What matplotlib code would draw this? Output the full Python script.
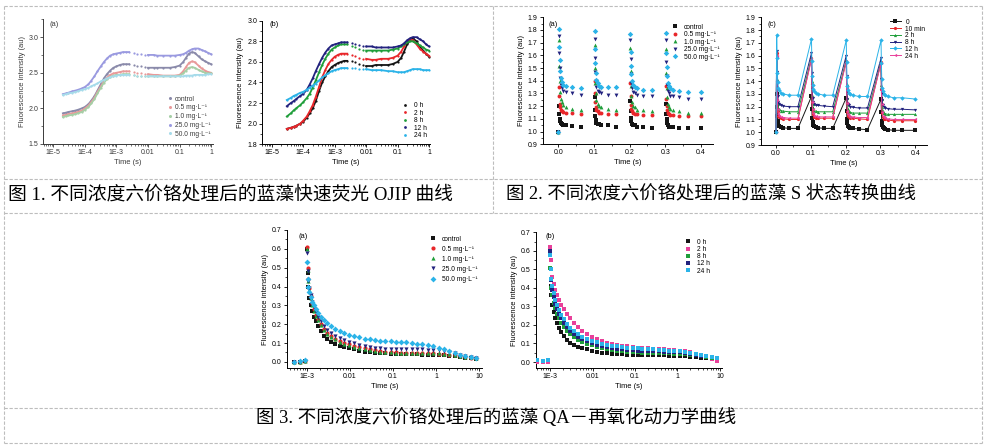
import numpy as np
import matplotlib
matplotlib.use('Agg')
import matplotlib.pyplot as plt
from matplotlib.lines import Line2D
from matplotlib.ticker import LogLocator, MultipleLocator, NullFormatter

W, H = 991, 448
plt.rcParams['font.family'] = ['Liberation Sans', 'DejaVu Sans']

# ------------------------------------------------------------------ data
conc_labels = ['control', '0.5 mg·L⁻¹', '1.0 mg·L⁻¹', '25.0 mg·L⁻¹', '50.0 mg·L⁻¹']
hour_labels = ['0 h', '2 h', '8 h', '12 h', '24 h']
hour_labels_c = ['0', '10 min', '2 h', '8 h', '12 h', '24 h']

caption1 = '图 1. 不同浓度六价铬处理后的蓝藻快速荧光 OJIP 曲线'
caption2 = '图 2. 不同浓度六价铬处理后的蓝藻 S 状态转换曲线'
caption3 = '图 3. 不同浓度六价铬处理后的蓝藻 QA－再氧化动力学曲线'

ylabel = 'Fluorescence intensity (au)'
xlabel = 'Time (s)'

log_ticks_ojip = [1e-5, 1e-4, 1e-3, 1e-2, 1e-1, 1]
log_labels_ojip = ['1E-5', '1E-4', '1E-3', '0.01', '0.1', '1']
log_ticks_qa = [1e-3, 1e-2, 1e-1, 1, 10]
log_labels_qa = ['1E-3', '0.01', '0.1', '1', '10']

# --- Fig 1 (a): OJIP, concentrations
ojip_t_a = [2e-5, 2.5e-5, 3e-5, 4e-5, 5e-5, 6e-5, 8e-5, 1e-4, 1.3e-4, 1.6e-4,
            2e-4, 2.5e-4, 3.2e-4, 4e-4, 5e-4, 6.3e-4, 8e-4, 1e-3, 1.3e-3, 1.6e-3,
            2e-3, 2.5e-3, 3.5e-3, 4.5e-3, 6e-3, 8e-3, 0.01, 0.015, 0.02, 0.03,
            0.05, 0.07, 0.1, 0.13, 0.16, 0.2, 0.25, 0.3, 0.4, 0.5, 0.65, 0.8, 1.0]
ojip_a_control = [1.93, 1.94, 1.95, 1.96, 1.97, 1.98, 2.00, 2.02, 2.06, 2.11, 2.17, 2.25, 2.34,
                  2.42, 2.48, 2.53, 2.57, 2.59, 2.61, 2.62, 2.62, 2.62, 2.61, 2.60, 2.59, 2.58,
                  2.57, 2.57, 2.57, 2.57, 2.57, 2.58, 2.60, 2.65, 2.71, 2.77, 2.79, 2.78, 2.73,
                  2.69, 2.66, 2.64, 2.62]
ojip_a_c05 = [1.90, 1.91, 1.92, 1.93, 1.94, 1.95, 1.97, 2.00, 2.04, 2.09, 2.15, 2.23, 2.31,
              2.38, 2.43, 2.47, 2.49, 2.50, 2.51, 2.52, 2.52, 2.52, 2.51, 2.50, 2.49, 2.48,
              2.48, 2.47, 2.47, 2.46, 2.46, 2.46, 2.47, 2.52, 2.58, 2.64, 2.66, 2.65, 2.60,
              2.56, 2.53, 2.51, 2.50]
ojip_a_c10 = [1.88, 1.89, 1.90, 1.91, 1.92, 1.93, 1.95, 1.98, 2.02, 2.07, 2.13, 2.21, 2.29,
              2.36, 2.41, 2.44, 2.46, 2.47, 2.47, 2.48, 2.48, 2.48, 2.47, 2.46, 2.46, 2.45,
              2.45, 2.45, 2.45, 2.45, 2.45, 2.45, 2.46, 2.49, 2.53, 2.57, 2.58, 2.57, 2.54,
              2.52, 2.50, 2.49, 2.49]
ojip_a_c25 = [2.20, 2.21, 2.22, 2.24, 2.25, 2.26, 2.28, 2.30, 2.34, 2.39, 2.45, 2.52, 2.59,
              2.65, 2.70, 2.74, 2.76, 2.77, 2.78, 2.79, 2.79, 2.79, 2.78, 2.77, 2.76, 2.75,
              2.75, 2.75, 2.74, 2.74, 2.74, 2.74, 2.75, 2.76, 2.78, 2.81, 2.83, 2.84, 2.84,
              2.82, 2.80, 2.78, 2.76]
ojip_a_c50 = [2.19, 2.20, 2.21, 2.22, 2.23, 2.24, 2.26, 2.27, 2.29, 2.31, 2.33, 2.35, 2.38,
              2.40, 2.42, 2.44, 2.45, 2.46, 2.47, 2.47, 2.47, 2.47, 2.47, 2.46, 2.46, 2.46,
              2.45, 2.45, 2.45, 2.45, 2.45, 2.45, 2.45, 2.45, 2.46, 2.46, 2.46, 2.47, 2.47,
              2.47, 2.47, 2.48, 2.48]

# --- Fig 1 (b): OJIP, exposure time
ojip_t_b = [3e-5, 4e-5, 5e-5, 6e-5, 8e-5, 1e-4, 1.3e-4, 1.6e-4, 2e-4, 2.5e-4,
            3.2e-4, 4e-4, 5e-4, 6.3e-4, 8e-4, 1e-3, 1.3e-3, 1.6e-3, 2e-3, 2.5e-3,
            3.5e-3, 4.5e-3, 6e-3, 8e-3, 0.01, 0.015, 0.02, 0.03, 0.05, 0.07,
            0.1, 0.13, 0.16, 0.2, 0.25, 0.3, 0.4, 0.5, 0.65, 0.8, 1.0]
ojip_b_0h = [1.95, 1.96, 1.97, 1.98, 2.00, 2.02, 2.06, 2.10, 2.15, 2.22, 2.32, 2.40, 2.46,
             2.51, 2.55, 2.57, 2.59, 2.60, 2.61, 2.61, 2.61, 2.60, 2.58, 2.57, 2.56, 2.56,
             2.57, 2.57, 2.57, 2.58, 2.60, 2.64, 2.70, 2.77, 2.81, 2.83, 2.80, 2.75, 2.71,
             2.68, 2.65]
ojip_b_2h = [1.95, 1.96, 1.97, 1.98, 2.00, 2.03, 2.07, 2.12, 2.18, 2.26, 2.36, 2.45, 2.52,
             2.58, 2.62, 2.65, 2.67, 2.68, 2.68, 2.68, 2.67, 2.66, 2.64, 2.63, 2.63, 2.62,
             2.62, 2.63, 2.63, 2.64, 2.66, 2.70, 2.75, 2.80, 2.82, 2.81, 2.77, 2.73, 2.70,
             2.68, 2.66]
ojip_b_8h = [2.07, 2.10, 2.13, 2.15, 2.18, 2.21, 2.25, 2.29, 2.35, 2.42, 2.50, 2.57, 2.63,
             2.68, 2.72, 2.74, 2.76, 2.77, 2.77, 2.77, 2.75, 2.74, 2.73, 2.72, 2.71, 2.71,
             2.71, 2.71, 2.71, 2.72, 2.73, 2.75, 2.77, 2.79, 2.80, 2.80, 2.78, 2.76, 2.74,
             2.72, 2.71]
ojip_b_12h = [2.17, 2.20, 2.22, 2.24, 2.27, 2.29, 2.33, 2.38, 2.44, 2.51, 2.58, 2.64, 2.69,
              2.73, 2.76, 2.77, 2.78, 2.79, 2.79, 2.79, 2.78, 2.77, 2.76, 2.75, 2.75, 2.75,
              2.74, 2.74, 2.74, 2.74, 2.75, 2.76, 2.78, 2.81, 2.83, 2.84, 2.84, 2.82, 2.80,
              2.77, 2.75]
ojip_b_24h = [2.23, 2.25, 2.27, 2.28, 2.30, 2.31, 2.33, 2.35, 2.37, 2.39, 2.42, 2.45, 2.47,
              2.49, 2.51, 2.52, 2.53, 2.54, 2.54, 2.54, 2.54, 2.54, 2.53, 2.53, 2.53, 2.52,
              2.52, 2.52, 2.51, 2.51, 2.50, 2.50, 2.50, 2.51, 2.52, 2.53, 2.53, 2.53, 2.52,
              2.52, 2.52]

# --- Fig 2: state transitions (4 saturating pulses)
pulse_times = [0.0, 0.1, 0.2, 0.3]
pulse_offsets = [0.002, 0.003, 0.004, 0.005, 0.007, 0.010, 0.014, 0.021, 0.038, 0.063]
st_start_time, st_end_time = 0.0, 0.4
st_start_value = 1.0

st_a_control = [[1.20, 1.14, 1.10, 1.08, 1.07, 1.06, 1.05, 1.05, 1.045, 1.04],
                [1.27, 1.17, 1.12, 1.09, 1.07, 1.06, 1.06, 1.05, 1.05, 1.04],
                [1.24, 1.16, 1.11, 1.08, 1.06, 1.05, 1.05, 1.04, 1.035, 1.03],
                [1.22, 1.14, 1.10, 1.07, 1.05, 1.04, 1.04, 1.035, 1.03, 1.025]]
st_a_control_end = 1.03
st_a_c05 = [[1.35, 1.28, 1.22, 1.19, 1.17, 1.16, 1.155, 1.15, 1.145, 1.14],
            [1.40, 1.30, 1.23, 1.19, 1.17, 1.16, 1.15, 1.15, 1.14, 1.14],
            [1.38, 1.28, 1.21, 1.18, 1.16, 1.15, 1.14, 1.14, 1.13, 1.13],
            [1.36, 1.26, 1.20, 1.17, 1.15, 1.14, 1.13, 1.13, 1.125, 1.12]]
st_a_c05_end = 1.12
st_a_c10 = [[1.72, 1.52, 1.40, 1.31, 1.26, 1.23, 1.21, 1.19, 1.18, 1.17],
            [1.68, 1.50, 1.38, 1.30, 1.25, 1.22, 1.20, 1.19, 1.18, 1.17],
            [1.66, 1.48, 1.36, 1.28, 1.23, 1.20, 1.19, 1.17, 1.17, 1.16],
            [1.65, 1.46, 1.34, 1.27, 1.22, 1.19, 1.18, 1.17, 1.16, 1.15]]
st_a_c10_end = 1.15
st_a_c25 = [[1.75, 1.62, 1.50, 1.42, 1.37, 1.34, 1.32, 1.31, 1.30, 1.29],
            [1.73, 1.58, 1.47, 1.40, 1.35, 1.32, 1.31, 1.30, 1.29, 1.29],
            [1.72, 1.57, 1.45, 1.38, 1.34, 1.31, 1.30, 1.29, 1.28, 1.28],
            [1.72, 1.55, 1.44, 1.37, 1.32, 1.30, 1.28, 1.28, 1.27, 1.26]]
st_a_c25_end = 1.26
st_a_c50 = [[1.81, 1.67, 1.56, 1.48, 1.42, 1.39, 1.37, 1.36, 1.35, 1.34],
            [1.79, 1.65, 1.54, 1.46, 1.41, 1.38, 1.36, 1.35, 1.35, 1.35],
            [1.77, 1.63, 1.52, 1.45, 1.40, 1.37, 1.35, 1.34, 1.33, 1.33],
            [1.78, 1.62, 1.51, 1.44, 1.38, 1.36, 1.34, 1.33, 1.32, 1.31]]
st_a_c50_end = 1.31

st_c_0 = [[1.30, 1.20, 1.13, 1.09, 1.06, 1.05, 1.04, 1.035, 1.03, 1.03],
          [1.28, 1.18, 1.11, 1.08, 1.06, 1.05, 1.04, 1.035, 1.03, 1.03],
          [1.27, 1.17, 1.10, 1.07, 1.05, 1.04, 1.03, 1.03, 1.025, 1.02],
          [1.26, 1.16, 1.09, 1.06, 1.04, 1.03, 1.025, 1.02, 1.015, 1.015]]
st_c_0_end = 1.015
st_c_10min = [[1.62, 1.40, 1.25, 1.17, 1.13, 1.12, 1.11, 1.105, 1.10, 1.10],
              [1.58, 1.38, 1.24, 1.17, 1.14, 1.12, 1.115, 1.11, 1.11, 1.11],
              [1.56, 1.36, 1.23, 1.16, 1.13, 1.12, 1.11, 1.11, 1.105, 1.10],
              [1.55, 1.34, 1.21, 1.15, 1.12, 1.105, 1.10, 1.095, 1.09, 1.09]]
st_c_10min_end = 1.09
st_c_2h = [[1.60, 1.42, 1.30, 1.23, 1.19, 1.18, 1.17, 1.165, 1.16, 1.16],
           [1.58, 1.40, 1.29, 1.22, 1.19, 1.17, 1.165, 1.16, 1.16, 1.16],
           [1.56, 1.38, 1.27, 1.21, 1.18, 1.16, 1.155, 1.15, 1.15, 1.15],
           [1.55, 1.37, 1.26, 1.20, 1.17, 1.15, 1.145, 1.14, 1.14, 1.14]]
st_c_2h_end = 1.14
st_c_8h = [[1.64, 1.47, 1.35, 1.28, 1.24, 1.22, 1.21, 1.205, 1.20, 1.20],
           [1.62, 1.46, 1.34, 1.27, 1.24, 1.22, 1.21, 1.21, 1.205, 1.20],
           [1.60, 1.44, 1.32, 1.26, 1.22, 1.21, 1.20, 1.195, 1.19, 1.19],
           [1.58, 1.42, 1.31, 1.25, 1.21, 1.20, 1.19, 1.185, 1.18, 1.18]]
st_c_8h_end = 1.175
st_c_12h = [[1.76, 1.58, 1.46, 1.39, 1.35, 1.33, 1.31, 1.30, 1.29, 1.29],
            [1.73, 1.56, 1.44, 1.37, 1.34, 1.32, 1.31, 1.30, 1.29, 1.29],
            [1.72, 1.55, 1.43, 1.36, 1.33, 1.31, 1.30, 1.29, 1.28, 1.28],
            [1.72, 1.54, 1.42, 1.35, 1.32, 1.30, 1.29, 1.28, 1.27, 1.27]]
st_c_12h_end = 1.26
st_c_24h = [[1.60, 1.39, 1.25, 1.18, 1.14, 1.13, 1.12, 1.115, 1.11, 1.11],
            [1.57, 1.37, 1.24, 1.18, 1.15, 1.13, 1.125, 1.12, 1.12, 1.12],
            [1.55, 1.35, 1.23, 1.17, 1.14, 1.13, 1.12, 1.12, 1.115, 1.115],
            [1.54, 1.33, 1.22, 1.16, 1.13, 1.12, 1.11, 1.105, 1.10, 1.10]]
st_c_24h_end = 1.10

# --- Fig 3: QA- reoxidation
qa_t = [5e-4, 7e-4, 9e-4, 1.0e-3, 1.04e-3, 1.08e-3, 1.14e-3, 1.22e-3, 1.32e-3, 1.45e-3,
        1.6e-3, 1.8e-3, 2.1e-3, 2.5e-3, 3e-3, 3.7e-3, 4.6e-3, 5.8e-3, 7.4e-3, 9.5e-3,
        0.0125, 0.0165, 0.022, 0.029, 0.038, 0.05, 0.066, 0.088, 0.115, 0.15,
        0.2, 0.27, 0.36, 0.48, 0.64, 0.85, 1.15, 1.5, 2.0, 2.7, 3.6, 4.8, 6.4, 8.5]
qa_a_control = [0.0, 0.0, 0.005, 0.60, 0.47, 0.40, 0.34, 0.30, 0.27, 0.24, 0.215, 0.19, 0.165,
                0.14, 0.12, 0.105, 0.095, 0.087, 0.08, 0.073, 0.067, 0.06, 0.055, 0.05, 0.048,
                0.046, 0.045, 0.044, 0.043, 0.042, 0.042, 0.041, 0.040, 0.039, 0.038, 0.037,
                0.036, 0.034, 0.032, 0.029, 0.026, 0.022, 0.019, 0.017]
qa_a_c05 = [0.0, 0.0, 0.005, 0.61, 0.50, 0.44, 0.39, 0.35, 0.31, 0.28, 0.25, 0.225, 0.20,
            0.175, 0.155, 0.138, 0.124, 0.112, 0.102, 0.094, 0.086, 0.079, 0.072, 0.066, 0.061,
            0.057, 0.054, 0.052, 0.050, 0.049, 0.048, 0.047, 0.047, 0.046, 0.046, 0.045,
            0.044, 0.042, 0.039, 0.035, 0.031, 0.027, 0.023, 0.02]
qa_a_c10 = [0.0, 0.0, 0.005, 0.60, 0.49, 0.43, 0.38, 0.34, 0.30, 0.27, 0.245, 0.22, 0.195,
            0.17, 0.15, 0.133, 0.119, 0.107, 0.097, 0.089, 0.081, 0.074, 0.068, 0.063, 0.058,
            0.055, 0.052, 0.050, 0.049, 0.048, 0.048, 0.047, 0.047, 0.047, 0.046, 0.046,
            0.045, 0.043, 0.040, 0.036, 0.032, 0.028, 0.024, 0.021]
qa_a_c25 = [0.0, 0.0, 0.005, 0.58, 0.48, 0.43, 0.39, 0.355, 0.32, 0.29, 0.265, 0.24, 0.215,
            0.19, 0.17, 0.152, 0.138, 0.126, 0.115, 0.106, 0.098, 0.091, 0.085, 0.080, 0.076,
            0.073, 0.071, 0.070, 0.069, 0.068, 0.067, 0.067, 0.066, 0.066, 0.065, 0.064,
            0.062, 0.058, 0.052, 0.045, 0.038, 0.031, 0.025, 0.021]
qa_a_c50 = [0.0, 0.007, 0.012, 0.53, 0.44, 0.40, 0.37, 0.345, 0.32, 0.30, 0.28, 0.26, 0.24,
            0.22, 0.205, 0.19, 0.177, 0.166, 0.155, 0.145, 0.137, 0.13, 0.124, 0.119, 0.115,
            0.112, 0.11, 0.109, 0.108, 0.106, 0.104, 0.101, 0.097, 0.093, 0.088, 0.082,
            0.076, 0.069, 0.06, 0.048, 0.038, 0.03, 0.024, 0.02]

qa_b_0h = [0.01, 0.005, 0.01, 0.51, 0.41, 0.36, 0.31, 0.27, 0.24, 0.21, 0.185, 0.16, 0.14,
           0.12, 0.105, 0.093, 0.083, 0.075, 0.068, 0.062, 0.056, 0.051, 0.047, 0.044, 0.042,
           0.041, 0.040, 0.039, 0.038, 0.038, 0.037, 0.037, 0.036, 0.036, 0.035, 0.034,
           0.032, 0.03, 0.028, 0.026, 0.023, 0.02, 0.017, 0.014]
qa_b_2h = [0.0, 0.0, 0.0, 0.62, 0.55, 0.50, 0.46, 0.42, 0.39, 0.36, 0.335, 0.31, 0.285,
           0.26, 0.235, 0.21, 0.19, 0.17, 0.152, 0.137, 0.124, 0.113, 0.104, 0.097, 0.092,
           0.088, 0.084, 0.081, 0.078, 0.076, 0.074, 0.072, 0.07, 0.068, 0.066, 0.064,
           0.062, 0.058, 0.052, 0.045, 0.037, 0.027, 0.015, 0.005]
qa_b_8h = [0.01, 0.005, 0.01, 0.51, 0.44, 0.40, 0.36, 0.32, 0.29, 0.26, 0.235, 0.21, 0.19,
           0.17, 0.15, 0.134, 0.12, 0.108, 0.098, 0.09, 0.082, 0.075, 0.069, 0.064, 0.06,
           0.057, 0.055, 0.053, 0.052, 0.051, 0.05, 0.049, 0.048, 0.047, 0.046, 0.045,
           0.044, 0.042, 0.04, 0.037, 0.033, 0.029, 0.024, 0.02]
qa_b_12h = [0.01, 0.005, 0.01, 0.60, 0.50, 0.44, 0.39, 0.35, 0.315, 0.285, 0.26, 0.235, 0.21,
            0.19, 0.17, 0.152, 0.137, 0.124, 0.112, 0.102, 0.094, 0.087, 0.081, 0.076, 0.072,
            0.069, 0.066, 0.064, 0.062, 0.06, 0.059, 0.058, 0.057, 0.056, 0.055, 0.054,
            0.052, 0.049, 0.045, 0.04, 0.035, 0.03, 0.025, 0.02]
qa_b_24h = [0.01, 0.005, 0.01, 0.58, 0.50, 0.45, 0.41, 0.37, 0.335, 0.305, 0.28, 0.255, 0.23,
            0.205, 0.185, 0.166, 0.15, 0.136, 0.124, 0.114, 0.106, 0.099, 0.093, 0.088, 0.084,
            0.081, 0.078, 0.076, 0.074, 0.072, 0.07, 0.068, 0.066, 0.064, 0.062, 0.06,
            0.057, 0.053, 0.048, 0.042, 0.036, 0.03, 0.025, 0.021]

# ------------------------------------------------------------------ styles
C_BLACK, C_RED, C_GREEN, C_NAVY, C_CYAN, C_PINK = (
    '#151515', '#e8262a', '#1f9e3a', '#22227e', '#2bb3e8', '#e8409a')
faded = ['#8a8aaa', '#e89a9a', '#a6cfa6', '#9a9ae0', '#a6dbea']

FS_TICK = 5.0
FS_LAB = 5.4
FS_LEG = 4.8

fig = plt.figure(figsize=(W / 100, H / 100), dpi=100)
fig.patch.set_facecolor('white')


def px_axes(l, t, r, b):
    return fig.add_axes([l / W, 1 - b / H, (r - l) / W, (b - t) / H])


def style(ax, tc='black'):
    for s in ('top', 'right'):
        ax.spines[s].set_visible(False)
    for s in ('left', 'bottom'):
        ax.spines[s].set_linewidth(0.7)
        ax.spines[s].set_color(tc)
    ax.tick_params(which='major', direction='out', length=2.2, width=0.6,
                   labelsize=FS_TICK, pad=1.5, colors=tc)
    ax.tick_params(which='minor', direction='out', length=1.2, width=0.5, colors=tc)
    ax.set_facecolor('none')


def px_text(x, y, s, **kw):
    fig.text(x / W, 1 - y / H, s, **kw)


def px_legend(ax, handles, labels, x, y_first, pitch, **kw):
    """Legend whose left edge is at x px, first row centred at y_first px,
    rows spaced by pitch px (all in image pixels, origin top-left)."""
    ls = 0.3
    ytop = y_first - 3.0
    fs_px = FS_LEG * 100 / 72
    for _ in range(4):
        leg = ax.legend(handles, labels, loc='upper left',
                        bbox_to_anchor=(x / W, 1 - ytop / H),
                        bbox_transform=fig.transFigure, frameon=False, borderpad=0,
                        borderaxespad=0, fontsize=FS_LEG, labelspacing=ls, **kw)
        fig.canvas.draw()
        ys = [(H - 0.5 * (b.y0 + b.y1)) for b in
              (t.get_window_extent() for t in leg.get_texts())]
        cur_pitch = (ys[-1] - ys[0]) / (len(ys) - 1)
        ls += (pitch - cur_pitch) / fs_px
        ytop += y_first - ys[0]
    return leg


def log_axis(ax, ticks, labels, lo, hi):
    ax.set_xscale('log')
    ax.set_xlim(lo, hi)
    ax.set_xticks(ticks, labels)
    ax.xaxis.set_minor_locator(LogLocator(base=10, subs=np.arange(2, 10) * 1.0, numticks=30))
    ax.xaxis.set_minor_formatter(NullFormatter())


def ojip_plot(ax, t, v, color, z):
    t = np.asarray(t)
    v = np.asarray(v)
    early = t <= 2.5e-3
    late = t >= 1e-2
    ax.plot(t[early], v[early], '-', color=color, lw=1.3, zorder=z)
    ax.plot(t[late], v[late], '-', color=color, lw=1.3, zorder=z)
    ax.plot(t, v, 'o', color=color, ms=1.6, mew=0, zorder=z)


# ---------------- Fig 1 (a)
ax = px_axes(43.3, 19.3, 213, 144)
style(ax, '#3a3a3a')
log_axis(ax, log_ticks_ojip, log_labels_ojip, 4.8e-6, 1.15)
ax.set_ylim(1.5, 3.25)
ax.set_yticks([1.5, 2.0, 2.5, 3.0])
ax.yaxis.set_minor_locator(MultipleLocator(0.25))
series = [ojip_a_control, ojip_a_c05, ojip_a_c10, ojip_a_c25, ojip_a_c50]
hs = []
for i, (v, c) in enumerate(zip(series, faded)):
    ojip_plot(ax, ojip_t_a, v, c, 2 + i)
    hs.append(Line2D([], [], ls='none', marker='o', ms=2.2, mew=0, color=c))
ax.set_ylabel(ylabel, fontsize=FS_LAB, labelpad=2, color='#3a3a3a')
ax.set_xlabel(xlabel, fontsize=FS_LAB, labelpad=2, color='#3a3a3a')
px_legend(ax, hs, conc_labels, 167.5, 99, 8.8, handlelength=0.8, handletextpad=0.35,
          labelcolor='#3a3a3a')
px_text(50, 25, '(a)', fontsize=FS_LAB, va='center', ha='left', color='#3a3a3a')

# ---------------- Fig 1 (b)
ax = px_axes(262.3, 20.7, 430, 144.3)
style(ax)
log_axis(ax, log_ticks_ojip, log_labels_ojip, 5e-6, 1.07)
ax.set_ylim(1.8, 3.0)
ax.set_yticks(np.round(np.arange(1.8, 3.01, 0.2), 1))
ax.yaxis.set_minor_locator(MultipleLocator(0.1))
series = [ojip_b_0h, ojip_b_2h, ojip_b_8h, ojip_b_12h, ojip_b_24h]
cols = [C_BLACK, C_RED, C_GREEN, C_NAVY, C_CYAN]
hs = []
for i, (v, c) in enumerate(zip(series, cols)):
    ojip_plot(ax, ojip_t_b, v, c, 2 + i)
    hs.append(Line2D([], [], ls='none', marker='o', ms=2.0, mew=0, color=c))
ax.set_ylabel(ylabel, fontsize=FS_LAB, labelpad=2)
ax.set_xlabel(xlabel, fontsize=FS_LAB, labelpad=2)
px_legend(ax, hs, hour_labels, 401.9, 105.7, 7.5, handlelength=1.0, handletextpad=0.75)
px_text(270, 25, '(b)', fontsize=FS_LAB, va='center', ha='left')


# ---------------- Fig 2 helpers
def st_series(pulses, end):
    t = [st_start_time]
    v = [st_start_value]
    for p0, vals in zip(pulse_times, pulses):
        for d, val in zip(pulse_offsets, vals):
            t.append(p0 + d)
            v.append(val)
    t.append(st_end_time)
    v.append(end)
    return t, v


def st_axes(ax):
    style(ax)
    ax.set_xlim(-0.044, 0.435)
    ax.set_ylim(0.9, 1.9)
    ax.set_xticks([0.0, 0.1, 0.2, 0.3, 0.4], ['0.0', '0.1', '0.2', '0.3', '0.4'])
    ax.set_yticks(np.round(np.arange(0.9, 1.91, 0.1), 1))
    ax.xaxis.set_minor_locator(MultipleLocator(0.05))
    ax.yaxis.set_minor_locator(MultipleLocator(0.05))
    ax.set_ylabel(ylabel, fontsize=FS_LAB, labelpad=2)
    ax.set_xlabel(xlabel, fontsize=FS_LAB, labelpad=2)


# ---------------- Fig 2 (a)
ax = px_axes(542.7, 17.3, 713.3, 144.3)
st_axes(ax)
series = [(st_a_control, st_a_control_end), (st_a_c05, st_a_c05_end),
          (st_a_c10, st_a_c10_end), (st_a_c25, st_a_c25_end), (st_a_c50, st_a_c50_end)]
marks = ['s', 'o', '^', 'v', 'D']
cols = [C_BLACK, C_RED, C_GREEN, C_NAVY, C_CYAN]
hs = []
for i, ((p, e), m, c) in enumerate(zip(series, marks, cols)):
    t, v = st_series(p, e)
    h, = ax.plot(t, v, ls='none', marker=m, ms=2.8, mew=0, color=c, zorder=2 + i)
    hs.append(h)
px_legend(ax, hs, conc_labels, 671.9, 27.3, 7.5, handlelength=1.0, handletextpad=0.75)
px_text(548.3, 24, '(a)', fontsize=FS_LAB, va='center', ha='left')

# ---------------- Fig 2 (c)
ax = px_axes(760.7, 17.3, 927.3, 145)
st_axes(ax)
series = [(st_c_0, st_c_0_end), (st_c_10min, st_c_10min_end), (st_c_2h, st_c_2h_end),
          (st_c_8h, st_c_8h_end), (st_c_12h, st_c_12h_end), (st_c_24h, st_c_24h_end)]
marks = ['s', 'o', '^', 'v', 'D', '<']
cols = [C_BLACK, C_RED, C_GREEN, C_NAVY, C_CYAN, C_PINK]
zs = [3, 4, 5, 6, 8, 7]
hs = []
for (p, e), m, c, z in zip(series, marks, cols, zs):
    t, v = st_series(p, e)
    h, = ax.plot(t, v, '-', lw=0.7, marker=m, ms=2.3, mew=0, color=c, zorder=z)
    hs.append(h)
px_legend(ax, hs, hour_labels_c, 890, 22.3, 6.74, handlelength=1.6, handletextpad=0.7)
px_text(767, 24, '(c)', fontsize=FS_LAB, va='center', ha='left')


# ---------------- Fig 3
def qa_axes(ax, lo, hi):
    style(ax)
    log_axis(ax, log_ticks_qa, log_labels_qa, lo, hi)
    ax.set_ylim(-0.034, 0.7)
    ax.set_yticks(np.round(np.arange(0.0, 0.71, 0.1), 1))
    ax.yaxis.set_minor_locator(MultipleLocator(0.05))
    ax.set_ylabel(ylabel, fontsize=FS_LAB, labelpad=2)
    ax.set_xlabel(xlabel, fontsize=FS_LAB, labelpad=2)


ax = px_axes(286.7, 230, 481.7, 368.3)
qa_axes(ax, 3.4e-4, 11.5)
series = [qa_a_control, qa_a_c05, qa_a_c10, qa_a_c25, qa_a_c50]
marks = ['s', 'o', '^', 'v', 'D']
cols = [C_BLACK, C_RED, C_GREEN, C_NAVY, C_CYAN]
hs = []
for i, (v, m, c) in enumerate(zip(series, marks, cols)):
    h, = ax.plot(qa_t, v, ls='none', marker=m, ms=3.0, mew=0, color=c, zorder=2 + i)
    hs.append(h)
px_legend(ax, hs, conc_labels, 430, 239, 10.1, handlelength=1.0, handletextpad=0.75)
px_text(298.3, 236, '(a)', fontsize=FS_LAB, va='center', ha='left')

ax = px_axes(535.7, 232.3, 721.7, 368.3)
qa_axes(ax, 4.6e-4, 11.0)
series = [qa_b_0h, qa_b_2h, qa_b_8h, qa_b_12h, qa_b_24h]
cols = [C_BLACK, C_PINK, C_GREEN, C_NAVY, C_CYAN]
hs = []
for i, (v, c) in enumerate(zip(series, cols)):
    h, = ax.plot(qa_t, v, ls='none', marker='s', ms=3.0, mew=0, color=c, zorder=2 + i)
    hs.append(h)
px_legend(ax, hs, hour_labels, 685, 242.3, 7.2, handlelength=1.0, handletextpad=0.75)
px_text(545, 236.7, '(b)', fontsize=FS_LAB, va='center', ha='left')

# ---------------- table frame (dashed grey lines)
LC = '#bdbdbd'


def frame_line(x0, y0, x1, y1):
    fig.add_artist(Line2D([x0 / W, x1 / W], [1 - y0 / H, 1 - y1 / H],
                          transform=fig.transFigure, color=LC, lw=0.8,
                          ls=(0, (3, 1.5)), zorder=0))


frame_line(4, 6, 982, 6)
frame_line(4, 6, 4, 443)
frame_line(982, 6, 982, 443)
frame_line(4, 179.5, 982, 179.5)
frame_line(4, 213.5, 982, 213.5)
frame_line(493, 6, 493, 213.5)
frame_line(4, 408, 982, 408)
frame_line(4, 443, 982, 443)

# ---------------- captions
cap_font = ['Liberation Serif', 'Noto Sans CJK SC']
px_text(8, 194.5, caption1, fontsize=13.5, family=cap_font, va='center', ha='left')
px_text(506, 194.5, caption2, fontsize=13.2, family=cap_font, va='center', ha='left')
px_text(496.5, 418, caption3, fontsize=13.3, family=cap_font, va='center', ha='center')

fig.savefig('out.png', dpi=100)
